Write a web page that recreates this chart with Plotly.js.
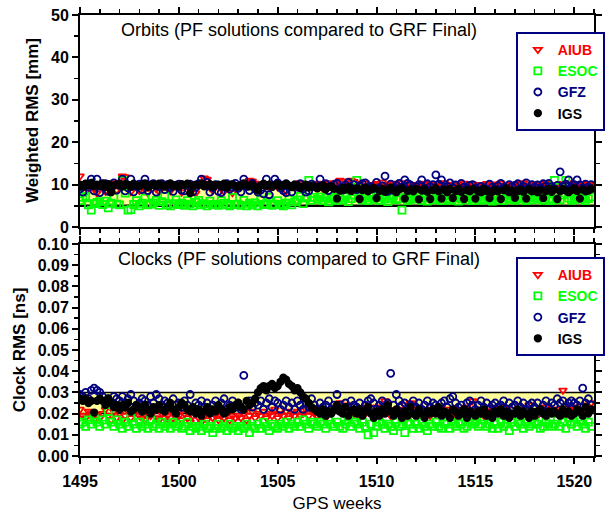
<!DOCTYPE html>
<html>
<head>
<meta charset="utf-8">
<script src="https://cdn.plot.ly/plotly-3.0.1.min.js"></script>
<style>html,body{margin:0;padding:0;background:#fff}#plot{width:610px;height:513px}</style>
</head>
<body>
<div id="plot"></div>
<script>
// GPS weeks, one value per day (7 per week)
const startWeek = 1495;
const nWeeks = 26;
const xTickVals = [1495, 1500, 1505, 1510, 1515, 1520];
const seriesNames = ["AIUB", "ESOC", "GFZ", "IGS"];

// Orbits: weighted RMS [mm]
const orbitAIUB = [
12.0,9.5,8.2,9.8,10.3,9.1,8.0, 9.6,10.1,8.4,9.9,9.2,10.4,8.7, 9.3,12.0,11.8,9.5,8.3,9.9,10.2,
8.6,9.4,10.0,8.1,9.7,10.3,9.0, 8.4,9.8,10.1,9.2,8.5,9.6,10.0, 9.1,8.2,9.9,10.2,8.8,9.4,8.0,
9.7,10.0,11.5,11.2,9.3,8.6,9.9, 10.2,9.0,8.4,10.1,9.6,8.1,9.8, 10.0,9.5,10.2,9.7,11.0,10.8,10.3,
10.1,9.8,10.0,10.2,9.3,9.9,10.3, 9.4,10.2,9.7,8.5,10.0,9.6,9.2, 9.9,10.4,9.3,9.8,10.1,9.5,10.0,
10.3,9.7,9.0,10.2,9.8,10.4,9.6, 10.5,11.0,10.8,9.9,10.3,11.0,10.7, 9.6,10.2,9.8,10.4,8.9,10.0,9.5,
10.2,9.7,10.5,9.4,10.0,9.9,10.3, 9.1,9.8,10.4,9.6,10.1,8.8,9.9, 10.0,9.5,10.3,9.2,9.8,10.2,9.4,
9.9,10.1,9.3,10.4,9.7,10.0,9.6, 10.2,9.4,9.9,10.3,9.0,9.8,10.1, 9.7,10.0,9.5,9.9,10.2,9.3,9.8,
10.1,9.6,10.3,9.4,9.9,10.0,9.7, 9.5,10.2,9.8,10.4,9.6,9.1,10.0, 9.9,9.4,10.1,9.7,10.3,9.8,9.5,
10.0,9.6,10.2,9.3,9.9,10.4,9.7, 9.8,10.1,9.4,10.0,9.6,10.2,9.9];
const orbitESOC = [
6.2,7.0,7.2,5.2,4.0,5.5,5.8, 6.0,5.3,6.1,4.5,5.6,7.0,5.4, 5.2,11.0,8.0,4.0,4.1,5.3,6.2,
5.0,5.6,6.8,5.2,5.4,5.7,6.3, 5.1,6.0,7.3,5.2,5.0,5.5,6.4, 5.3,5.6,5.1,6.2,5.4,5.0,5.8,
6.3,5.2,5.5,5.0,6.1,5.3,5.4, 5.1,6.2,5.6,5.2,5.0,7.0,5.3, 5.4,5.1,6.3,5.0,5.6,5.2,5.7,
5.0,6.4,5.3,5.5,7.0,5.1,5.4, 6.2,5.3,5.0,5.6,6.5,5.2,5.9, 6.4,7.2,5.5,6.8,11.0,6.3,7.0,
6.5,7.1,6.2,6.8,5.9,6.6,7.0, 6.3,6.9,6.4,7.1,6.0,6.7,7.5, 11.0,7.0,6.4,6.8,6.2,7.2,6.5,
6.9,6.3,7.1,6.6,6.0,6.8,7.3, 6.4,6.7,4.0,7.0,6.2,6.5,6.9, 6.6,7.2,6.3,6.8,6.1,7.0,6.4,
6.5,6.9,6.2,7.4,6.7,6.3,7.0, 6.8,6.1,6.6,7.1,6.4,6.9,6.2, 6.7,7.0,6.3,6.6,7.2,6.5,6.1,
6.9,6.4,7.1,6.2,6.8,6.5,7.3, 6.3,6.7,6.6,7.0,6.2,6.9,6.4, 7.1,6.5,6.8,6.3,7.0,6.6,6.2,
11.0,6.7,6.4,7.5,11.0,6.8,6.3, 6.6,7.0,6.5,6.9,6.2,6.7,7.1];
const orbitGFZ = [
9.0,8.2,10.1,9.4,11.3,8.5,11.3, 8.1,9.6,10.2,8.4,9.1,10.4,8.7, 9.8,11.3,8.5,9.2,11.3,8.3,9.6,
10.1,8.8,11.3,8.6,9.9,10.2,8.2, 9.5,10.2,8.8,10.0,9.3,8.4,9.7, 10.1,8.7,8.5,9.8,10.1,8.3,9.4,
10.2,11.3,9.9,10.5,8.2,9.3,10.0, 8.4,8.1,9.6,10.2,8.9,9.4,10.3, 9.1,8.3,11.3,9.5,8.6,10.3,9.0,
8.2,8.7,7.8,11.3,7.6,9.5,11.3, 10.4,9.2,8.6,8.1,9.7,8.3,9.9, 9.4,10.2,9.0,8.2,8.5,10.1,9.6,
9.3,11.3,9.8,10.2,8.6,9.5,10.0, 10.3,9.1,8.7,9.9,10.5,9.2,10.0, 8.8,9.6,10.2,10.4,9.3,9.5,9.1,
10.5,9.2,9.7,12.0,8.4,10.1,9.0, 9.8,10.3,9.4,11.1,10.3,9.9,8.7, 9.5,10.0,11.1,9.1,10.2,9.5,10.0,
12.3,10.1,11.1,8.8,9.6,10.4,9.2, 9.9,8.7,10.3,9.4,8.9,9.8,10.0, 9.1,8.5,9.6,9.2,8.6,10.1,9.4,
8.8,9.7,10.3,9.3,8.7,10.0,9.5, 9.8,10.2,9.0,9.6,10.4,9.1,10.0, 9.4,9.9,9.2,10.2,9.7,10.3,9.5,
9.0,9.8,13.0,9.6,10.1,11.1,9.4, 10.0,11.1,9.9,9.2,10.1,9.4,10.0];
const orbitIGS = [
10.0,9.5,10.2,9.8,10.4,9.6,10.0, 9.7,10.3,9.4,10.1,8.2,9.8,10.0, 10.3,9.6,10.1,9.9,9.5,10.2,9.8,
9.6,10.0,10.3,9.4,9.9,10.1,9.7, 10.2,9.8,9.5,10.0,10.3,9.6,9.9, 9.5,10.1,9.8,10.2,8.0,9.7,10.0,
9.9,10.3,9.6,9.8,10.1,9.5,9.9, 10.0,9.6,10.2,9.3,9.9,10.1,9.7, 9.5,9.9,10.3,9.8,9.6,10.0,9.4,
8.6,9.8,10.2,9.7,10.0,9.5,9.9, 10.1,9.6,9.9,10.3,9.7,9.4,10.0, 9.8,9.2,9.6,10.0,9.3,9.7,9.5,
9.1,9.5,9.8,8.9,9.4,9.6,9.0, 6.7,8.6,9.2,8.8,9.4,8.5,8.9, 9.1,6.6,8.7,9.3,8.4,8.9,9.2,
6.8,8.5,9.0,8.3,8.8,9.3,8.6, 8.2,8.9,9.1,6.7,8.5,8.8,8.4, 9.0,6.5,8.6,8.9,8.3,6.6,8.7,
9.1,8.4,6.7,8.8,8.2,8.9,6.8, 8.5,9.0,8.3,6.6,8.7,8.4,8.9, 6.7,8.6,8.2,9.0,8.5,6.8,8.3,
8.8,8.4,6.6,8.7,9.1,8.2,8.6, 6.9,8.5,8.8,8.3,6.7,8.9,8.4, 8.6,8.2,8.7,6.8,8.5,9.0,8.3,
8.8,6.6,8.4,8.9,8.6,8.2,8.7, 9.1,8.5,6.7,8.8,8.4,8.6,8.9];

// Clocks: RMS [ns]
const clockAIUB = [
.022,.019,.018,.021,.020,.017,.019, .018,.020,.022,.019,.017,.021,.018, .020,.017,.019,.021,.018,.020,.022,
.019,.018,.017,.020,.019,.021,.018, .017,.020,.018,.019,.016,.020,.018, .019,.017,.020,.018,.016,.019,.021,
.018,.016,.019,.017,.020,.018,.019, .017,.019,.018,.020,.017,.019,.018, .019,.018,.020,.017,.019,.021,.018,
.020,.019,.021,.018,.020,.019,.022, .018,.020,.019,.021,.018,.020,.019, .021,.019,.020,.022,.019,.021,.020,
.019,.022,.020,.018,.021,.020,.023, .022,.025,.021,.019,.024,.022,.020, .021,.019,.022,.020,.023,.021,.019,
.023,.021,.020,.026,.022,.019,.021, .020,.022,.021,.024,.019,.025,.022, .021,.023,.020,.022,.021,.019,.022,
.022,.020,.023,.021,.019,.022,.020, .019,.022,.021,.020,.023,.021,.026, .021,.020,.022,.019,.021,.023,.020,
.022,.021,.020,.023,.021,.019,.022, .020,.022,.021,.019,.022,.024,.021, .021,.019,.022,.020,.023,.021,.022,
.020,.022,.021,.031,.019,.024,.022, .023,.021,.020,.022,.024,.021,.025];
const clockESOC = [
.015,.016,.014,.017,.015,.018,.016, .014,.017,.015,.021,.016,.014,.017, .015,.013,.016,.014,.018,.015,.013,
.016,.014,.015,.013,.017,.014,.015, .013,.016,.014,.015,.013,.016,.014, .015,.013,.014,.016,.012,.014,.013,
.014,.012,.015,.013,.014,.011,.013, .015,.013,.014,.012,.015,.013,.014, .012,.014,.013,.015,.011,.014,.013,
.015,.013,.016,.014,.012,.015,.014, .013,.015,.014,.016,.013,.015,.014, .016,.014,.017,.015,.013,.016,.015,
.014,.016,.015,.013,.017,.015,.014, .016,.014,.013,.015,.017,.014,.016, .015,.013,.016,.014,.010,.015,.011,
.014,.016,.015,.013,.015,.014,.012, .016,.014,.015,.011,.016,.015,.013, .015,.013,.016,.014,.012,.015,.014,
.016,.014,.013,.015,.016,.013,.015, .014,.016,.015,.013,.014,.016,.015, .016,.014,.015,.017,.014,.015,.013,
.015,.013,.016,.014,.015,.012,.016, .014,.016,.015,.013,.016,.014,.015, .016,.015,.013,.014,.016,.015,.014,
.015,.017,.014,.016,.013,.018,.015, .016,.014,.017,.015,.013,.016,.014];
const clockGFZ = [
.029,.028,.030,.027,.031,.032,.031, .030,.028,.026,.027,.025,.028,.027, .026,.028,.025,.027,.029,.026,.024,
.025,.027,.026,.024,.028,.025,.029, .027,.024,.026,.025,.023,.027,.024, .025,.023,.026,.024,.029,.022,.025,
.024,.026,.023,.025,.022,.024,.026, .023,.025,.027,.022,.024,.026,.023, .025,.022,.038,.024,.026,.023,.025,
.024,.026,.022,.025,.027,.023,.026, .025,.022,.024,.026,.023,.025,.022, .026,.024,.022,.025,.023,.027,.024,
.022,.025,.023,.024,.026,.022,.024, .029,.024,.022,.025,.023,.026,.024, .023,.025,.022,.024,.026,.027,.025,
.022,.024,.026,.023,.025,.039,.024, .029,.026,.024,.025,.022,.024,.026, .023,.025,.022,.024,.026,.023,.025,
.024,.022,.025,.026,.023,.027,.028, .025,.023,.024,.022,.025,.026,.024, .022,.024,.026,.023,.025,.022,.024,
.025,.023,.024,.026,.022,.025,.023, .024,.026,.023,.025,.022,.024,.025, .023,.025,.022,.024,.026,.023,.025,
.024,.027,.025,.026,.023,.025,.026, .025,.024,.026,.032,.025,.027,.024];
const clockIGS = [
.027,.026,.027,.025,.026,.0205,.026, .027,.026,.024,.027,.025,.023,.024, .022,.024,.023,.025,.021,.022,.024,
.023,.021,.024,.022,.020,.023,.022, .024,.022,.021,.023,.025,.022,.020, .023,.025,.024,.022,.021,.023,.020,
.022,.019,.021,.023,.020,.022,.021, .024,.022,.020,.021,.023,.022,.024, .025,.023,.022,.026,.024,.025,.027,
.030,.032,.033,.031,.033,.034,.032, .033,.035,.037,.036,.034,.033,.031, .032,.030,.028,.027,.025,.023,.022,
.021,.020,.022,.019,.021,.020,.022, .024,.021,.020,.023,.019,.021,.022, .020,.022,.019,.021,.023,.020,.018,
.021,.019,.022,.020,.024,.021,.019, .022,.020,.018,.021,.019,.023,.020, .019,.022,.020,.018,.021,.020,.022,
.020,.023,.019,.021,.020,.018,.022, .021,.019,.020,.022,.018,.021,.020, .019,.021,.020,.022,.019,.020,.018,
.021,.020,.022,.019,.021,.018,.020, .020,.022,.019,.021,.020,.018,.021, .019,.021,.022,.020,.019,.021,.020,
.021,.020,.019,.022,.020,.021,.019, .020,.022,.021,.019,.023,.020,.022];

// Reference bands
const orbitBand = [5, 10];
const clockBand = [0.02, 0.03];

const xDays = [];
for (let i = 0; i < nWeeks * 7; i++) xDays.push(startWeek + i / 7);

const colors = {AIUB: "#ff0000", ESOC: "#00ff00", GFZ: "#000080", IGS: "#000000"};
const symbols = {AIUB: "triangle-down-open", ESOC: "square-open", GFZ: "circle-open", IGS: "circle"};
const orbitData = {AIUB: orbitAIUB, ESOC: orbitESOC, GFZ: orbitGFZ, IGS: orbitIGS};
const clockData = {AIUB: clockAIUB, ESOC: clockESOC, GFZ: clockGFZ, IGS: clockIGS};

const traces = [];
function addSet(data, xa, ya, leg) {
  seriesNames.forEach(n => {
    traces.push({
      type: "scatter", mode: "markers", x: xDays, y: data[n], xaxis: xa, yaxis: ya,
      name: '<b><span style="color:' + colors[n] + '">' + n + '</span></b>',
      legend: leg, legendgroup: leg + n,
      marker: {symbol: symbols[n], size: n === "IGS" ? 6.5 : 7, color: colors[n],
               line: {color: colors[n], width: 1.8}},
      cliponaxis: true
    });
  });
}
addSet(orbitData, "x", "y", "legend");
addSet(clockData, "x2", "y2", "legend2");

const font = {family: "Liberation Sans, Arial, sans-serif", color: "#000"};
const axCommon = {
  showline: true, linewidth: 2, linecolor: "#000", mirror: "allticks",
  ticks: "outside", ticklen: 6, tickwidth: 2, tickcolor: "#000",
  showgrid: false, zeroline: false, automargin: false,
  tickfont: Object.assign({size: 16, weight: "bold"}, font)
};
const xRange = [1495, 1521];
const minorTicks = {ticks: "outside", ticklen: 4, tickwidth: 1.5, tickcolor: "#000"};

function bandShapes(band, xr, yr, w) {
  return [
    {type: "rect", xref: xr + " domain", yref: yr, x0: 0, x1: 1, y0: band[0], y1: band[1],
     fillcolor: "#ffff99", line: {width: 0}, layer: "below"},
    {type: "line", xref: xr + " domain", yref: yr, x0: 0, x1: 1, y0: band[0], y1: band[0],
     line: {color: "#000", width: w}, layer: "below"},
    {type: "line", xref: xr + " domain", yref: yr, x0: 0, x1: 1, y0: band[1], y1: band[1],
     line: {color: "#000", width: w}, layer: "below"}
  ];
}

const legendCommon = {
  bgcolor: "#fff", bordercolor: "#000080", borderwidth: 2,
  font: Object.assign({size: 14, weight: "bold"}, font),
  xanchor: "left", yanchor: "top", traceorder: "grouped", tracegroupgap: 0,
  itemwidth: 30, itemclick: false
};

const titleFont = Object.assign({size: 17, weight: "bold"}, font);

const layout = {
  width: 610, height: 513,
  margin: {l: 80, r: 5, t: 15, b: 57},
  paper_bgcolor: "#fff", plot_bgcolor: "#fff",
  showlegend: true,
  xaxis: Object.assign({}, axCommon, {range: xRange, domain: [0, 1], anchor: "y",
    tickvals: xTickVals, showticklabels: false, matches: "x2",
    minor: Object.assign({dtick: 1}, minorTicks)}),
  yaxis: Object.assign({}, axCommon, {range: [0, 50], domain: [0.5193, 1], anchor: "x",
    dtick: 10, minor: Object.assign({dtick: 5}, minorTicks)}),
  xaxis2: Object.assign({}, axCommon, {range: xRange, domain: [0, 1], anchor: "y2",
    tickvals: xTickVals, ticklabelstandoff: 4,
    minor: Object.assign({dtick: 1}, minorTicks),
    title: {text: "GPS weeks", font: Object.assign({size: 17}, font), standoff: 8}}),
  yaxis2: Object.assign({}, axCommon, {range: [0, 0.1], domain: [0, 0.4807], anchor: "x2",
    dtick: 0.01, tickformat: ".2f",
    minor: Object.assign({dtick: 0.005}, minorTicks)}),
  legend: Object.assign({}, legendCommon, {x: 0.848, y: 0.9615}),
  legend2: Object.assign({}, legendCommon, {x: 0.848, y: 0.451}),
  shapes: bandShapes(orbitBand, "x", "y", 2.5).concat(bandShapes(clockBand, "x2", "y2", 1.5)),
  annotations: [
    {text: "Orbits (PF solutions compared to GRF Final)", xref: "paper", yref: "paper",
     x: 0.427, y: 0.966, xanchor: "center", yanchor: "middle", showarrow: false,
     font: Object.assign({size: 18}, font)},
    {text: "Clocks (PF solutions compared to GRF Final)", xref: "paper", yref: "paper",
     x: 0.427, y: 0.4467, xanchor: "center", yanchor: "middle", showarrow: false,
     font: Object.assign({size: 18}, font)},
    {text: "Weighted RMS [mm]", xref: "paper", yref: "y domain", x: -0.0914, y: 0.5,
     xanchor: "center", yanchor: "middle", textangle: -90, showarrow: false, font: titleFont},
    {text: "Clock RMS [ns]", xref: "paper", yref: "y2 domain", x: -0.118, y: 0.5,
     xanchor: "center", yanchor: "middle", textangle: -90, showarrow: false, font: titleFont}
  ]
};

Plotly.newPlot("plot", traces, layout, {displayModeBar: false, staticPlot: true});
</script>
</body>
</html>
